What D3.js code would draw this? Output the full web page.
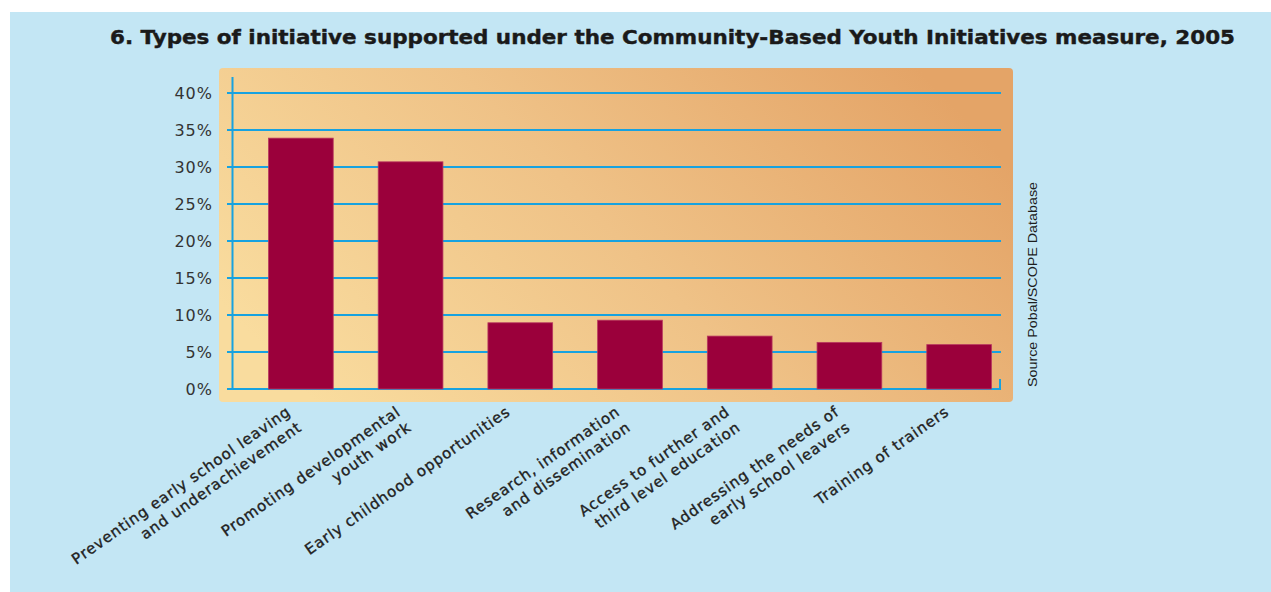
<!DOCTYPE html>
<html>
<head>
<meta charset="utf-8">
<script src="https://cdn.jsdelivr.net/npm/d3@7"></script>
<style>
  html, body { margin: 0; padding: 0; background: #ffffff; }
  svg { display: block; }
</style>
</head>
<body>
<svg id="chart" width="1271" height="592"></svg>
<script>
// ---- data ----
const title = "6. Types of initiative supported under the Community-Based Youth Initiatives measure, 2005";
const categories = [
  "Preventing early school leaving\nand underachievement",
  "Promoting developmental\nyouth work",
  "Early childhood opportunities",
  "Research, information\nand dissemination",
  "Access to further and\nthird level education",
  "Addressing the needs of\nearly school leavers",
  "Training of trainers"
];
const values = [33.9, 30.7, 8.95, 9.3, 7.15, 6.3, 6.0];
const yTicks = [0, 5, 10, 15, 20, 25, 30, 35, 40];
const sourceText = "Source Pobal/SCOPE Database";

// ---- layout ----
const svg = d3.select("#chart");
const defs = svg.append("defs");
const grad = defs.append("linearGradient").attr("id", "panelGrad")
  .attr("x1", "0%").attr("y1", "70%").attr("x2", "100%").attr("y2", "30%");
grad.append("stop").attr("offset", "0%").attr("stop-color", "#f9dc9e");
grad.append("stop").attr("offset", "50%").attr("stop-color", "#efc287");
grad.append("stop").attr("offset", "100%").attr("stop-color", "#e4a467");

// blue background
svg.append("rect").attr("x", 10).attr("y", 12).attr("width", 1261).attr("height", 580)
  .attr("fill", "#c3e6f4");

// title
svg.append("text").attr("x", 110).attr("y", 44)
  .attr("font-family", "DejaVu Sans, Liberation Sans, sans-serif")
  .attr("font-weight", "bold").attr("font-size", 19)
  .attr("fill", "#1a1a1a").attr("stroke", "#1a1a1a").attr("stroke-width", 0.4)
  .attr("textLength", 1125).attr("lengthAdjust", "spacingAndGlyphs")
  .text(title);

// plot panel
svg.append("rect").attr("x", 219).attr("y", 68).attr("width", 794).attr("height", 334)
  .attr("rx", 4).attr("fill", "url(#panelGrad)");

const y = d3.scaleLinear().domain([0, 40]).range([389, 93]);
const x = d3.scaleBand().domain(categories).range([246, 1014])
  .paddingInner(0.41).paddingOuter(0.205);

const gridColor = "#17a2e0";

// gridlines
svg.append("g").selectAll("line").data(yTicks).join("line")
  .attr("x1", 227).attr("x2", 1001)
  .attr("y1", d => y(d)).attr("y2", d => y(d))
  .attr("stroke", gridColor).attr("stroke-width", 2);

// y axis line
svg.append("line").attr("x1", 232.5).attr("x2", 232.5).attr("y1", 77).attr("y2", y(0) + 1)
  .attr("stroke", gridColor).attr("stroke-width", 2);
// right end tick
svg.append("line").attr("x1", 1000).attr("x2", 1000).attr("y1", 379).attr("y2", y(0) + 1)
  .attr("stroke", gridColor).attr("stroke-width", 2);

// y tick labels via axis
const yAxis = d3.axisLeft(y).tickValues(yTicks).tickSize(0).tickPadding(0)
  .tickFormat(d => d + "%");
const yg = svg.append("g").attr("transform", "translate(213,0)").call(yAxis);
yg.select(".domain").remove();
yg.selectAll("text")
  .attr("font-family", "DejaVu Sans, Liberation Sans, sans-serif")
  .attr("font-size", 16).attr("fill", "#333")
  .attr("letter-spacing", 1)
  .attr("dy", "0.36em");

// bars
svg.append("g").selectAll("rect").data(values).join("rect")
  .attr("x", (d, i) => x(categories[i]))
  .attr("width", x.bandwidth())
  .attr("y", d => y(d))
  .attr("height", d => y(0) - y(d))
  .attr("fill", "#9b003b")
  .attr("stroke", "#b9395f").attr("stroke-width", 0.8);

// x labels (rotated)
const lg = svg.append("g");
categories.forEach((c, i) => {
  const cx = x(c) + x.bandwidth() / 2;
  const t = lg.append("text")
    .attr("transform", `translate(${cx - 9},414) rotate(-35)`)
    .attr("text-anchor", "end")
    .attr("font-family", "DejaVu Sans, Liberation Sans, sans-serif")
    .attr("font-size", 15).attr("letter-spacing", 0.9)
    .attr("fill", "#222").attr("stroke", "#222").attr("stroke-width", 0.35);
  c.split("\n").forEach((line, j) => {
    t.append("tspan").attr("x", 0).attr("dy", j === 0 ? 0 : 19).text(line);
  });
});

// source text
svg.append("text")
  .attr("transform", "translate(1037,387) rotate(-90)")
  .attr("font-family", "Liberation Sans Narrow, Liberation Sans, sans-serif")
  .attr("font-size", 12).attr("fill", "#1e1e1e")
  .attr("textLength", 205).attr("lengthAdjust", "spacingAndGlyphs")
  .text(sourceText);
</script>
</body>
</html>
